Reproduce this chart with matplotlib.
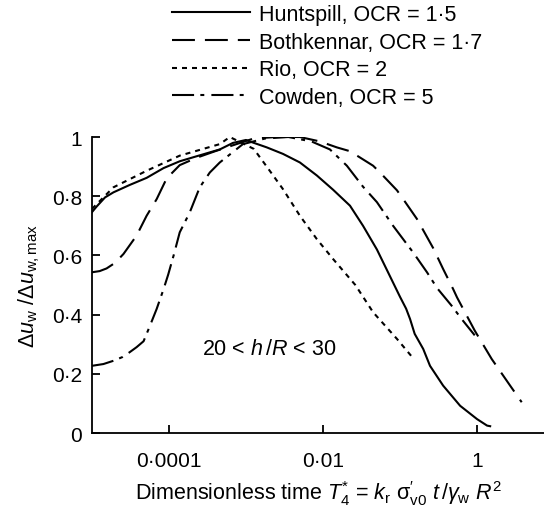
# normalised excess pore pressure vs dimensionless time, four sites
from matplotlib import pyplot as plt
from matplotlib.ticker import FixedLocator, FixedFormatter, NullLocator

plt.rcParams['font.family'] = 'Liberation Sans'
plt.rcParams['mathtext.fontset'] = 'custom'
plt.rcParams['mathtext.rm'] = 'Liberation Sans'
plt.rcParams['mathtext.it'] = 'Liberation Sans:italic'
plt.rcParams['mathtext.bf'] = 'Liberation Sans:bold'

# Huntspill, OCR = 1.5
hunt_T = [1.0e-5, 1.15e-5, 1.48e-5, 1.9e-5, 3.09e-5, 5.13e-5, 8.51e-5, 1.38e-4, 2.29e-4,
          4.57e-4, 6.76e-4, 1.0e-3, 1.12e-3, 1.86e-3, 3.02e-3, 5.01e-3, 8.32e-3, 1.35e-2,
          2.24e-2, 3.31e-2, 5.01e-2, 7.08e-2, 0.1, 0.12, 0.135, 0.155, 0.2, 0.245, 0.363,
          0.603, 1.0, 1.35, 1.48]
hunt_u = [0.746, 0.765, 0.796, 0.813, 0.838, 0.862, 0.895, 0.918, 0.935,
          0.958, 0.98, 0.99, 0.985, 0.965, 0.943, 0.914, 0.87, 0.822,
          0.768, 0.70, 0.62, 0.54, 0.46, 0.42, 0.385, 0.335, 0.284, 0.227, 0.16,
          0.092, 0.047, 0.025, 0.023]

# Bothkennar, OCR = 1.7
both_T = [1.0e-5, 1.26e-5, 1.55e-5, 2.0e-5, 2.57e-5, 3.8e-5, 5.13e-5, 6.92e-5, 9.33e-5,
          1.38e-4, 2.29e-4, 3.98e-4, 6.76e-4, 1.26e-3, 2.51e-3, 5.01e-3, 9.12e-3, 1.51e-2,
          2.24e-2, 4.47e-2, 5.5e-2, 9.12e-2, 0.11, 0.166, 0.269, 0.363, 0.49, 0.55, 0.933,
          1.55, 2.69, 3.8]
both_u = [0.543, 0.547, 0.556, 0.575, 0.605, 0.667, 0.734, 0.79, 0.86,
          0.905, 0.93, 0.952, 0.972, 0.995, 1.0, 1.0, 0.985, 0.965,
          0.952, 0.903, 0.88, 0.82, 0.79, 0.723, 0.625, 0.554, 0.486, 0.458, 0.346,
          0.25, 0.16, 0.104]

# Rio, OCR = 2
rio_T = [1.0e-5, 1.9e-5, 5.13e-5, 1.38e-4, 4.57e-4, 6.17e-4, 1.26e-3, 1.86e-3, 3.02e-3,
         5.01e-3, 8.32e-3, 1.35e-2, 2.63e-2, 4.47e-2, 9.12e-2, 0.151]
rio_u = [0.757, 0.83, 0.886, 0.937, 0.976, 1.0, 0.96, 0.90, 0.824,
         0.734, 0.655, 0.588, 0.50, 0.408, 0.318, 0.25]

# Cowden, OCR = 5
cow_T = [1.0e-5, 1.41e-5, 1.9e-5, 2.51e-5, 3.09e-5, 3.8e-5, 4.68e-5, 5.62e-5, 6.92e-5,
         8.51e-5, 9.77e-5, 1.15e-4, 1.38e-4, 1.86e-4, 2.51e-4, 3.39e-4, 4.57e-4, 9.12e-4,
         1.78e-3, 3.55e-3, 7.08e-3, 1.23e-2, 2.04e-2, 3.31e-2, 5.01e-2, 8.13e-2, 0.148,
         0.224, 0.302, 0.468, 0.631, 0.933]
cow_u = [0.227, 0.233, 0.244, 0.257, 0.273, 0.29, 0.31, 0.36, 0.419,
         0.486, 0.535, 0.60, 0.678, 0.745, 0.83, 0.88, 0.914, 0.976,
         0.995, 1.0, 0.985, 0.958, 0.903, 0.832, 0.78, 0.70, 0.61,
         0.543, 0.49, 0.43, 0.385, 0.33]

labels = ['Huntspill, OCR = 1\u00b75', 'Bothkennar, OCR = 1\u00b77',
          'Rio, OCR = 2', 'Cowden, OCR = 5']

x_ticks = [1e-4, 1e-2, 1]
x_ticklabels = ['0\u00b70001', '0\u00b701', '1']
y_ticks = [0, 0.2, 0.4, 0.6, 0.8, 1]
y_ticklabels = ['0', '0\u00b72', '0\u00b74', '0\u00b76', '0\u00b78', '1']

fig = plt.figure(figsize=(5.44, 5.10), dpi=100)
ax = fig.add_axes([0.169, 0.149, 0.831, 0.5804])

lw = 1.5
h1, = ax.plot(hunt_T, hunt_u, color='black', lw=lw, linestyle='-')
h2, = ax.plot(both_T, both_u, color='black', lw=lw, linestyle=(0, (11, 4.8)))
h3, = ax.plot(rio_T, rio_u, color='black', lw=lw, linestyle=(0, (2.4, 2.4)))
h4, = ax.plot(cow_T, cow_u, color='black', lw=lw, linestyle=(0, (10.6, 3.0, 1.9, 3.4)))

ax.set_xscale('log')
ax.set_xlim(1e-5, 7.4)
ax.set_ylim(0, 1)

ax.xaxis.set_major_locator(FixedLocator(x_ticks))
ax.xaxis.set_major_formatter(FixedFormatter(x_ticklabels))
ax.xaxis.set_minor_locator(NullLocator())
ax.yaxis.set_major_locator(FixedLocator(y_ticks))
ax.yaxis.set_major_formatter(FixedFormatter(y_ticklabels))

for s in ['top', 'right']:
    ax.spines[s].set_visible(False)
for s in ['left', 'bottom']:
    ax.spines[s].set_linewidth(1.3)
ax.tick_params(axis='both', direction='in', length=6, width=1.3, labelsize=15)
ax.tick_params(axis='x', pad=13)
ax.tick_params(axis='y', pad=7)

ax.set_ylabel(r'$\Delta u_{\rm w}\ /\Delta u_{\rm w,max}$', fontsize=15.5)
ax.yaxis.set_label_coords(-0.11, 0.5)
ax.set_xlabel(r'Dimensionless time $T^{*}_{4}$ = $k_{\rm r}\ \mathrm{\sigma}^{\prime}_{\rm v0}\ t\,/\gamma_{\rm w}\ R^{2}$',
              fontsize=15.5, labelpad=6)

ax.text(2.7e-4, 0.284, r'20 < $h\,$/$R$ < 30', fontsize=15.5, va='center', ha='left')

fig.legend([h1, h2, h3, h4], labels, loc='upper left', bbox_to_anchor=(172 / 544, 1 - 5 / 510),
           frameon=False, fontsize=15.5, handlelength=3.6, handletextpad=0.45,
           labelspacing=0.31, borderpad=0, borderaxespad=0)

plt.savefig('out.png', dpi=100)
plt.close()
